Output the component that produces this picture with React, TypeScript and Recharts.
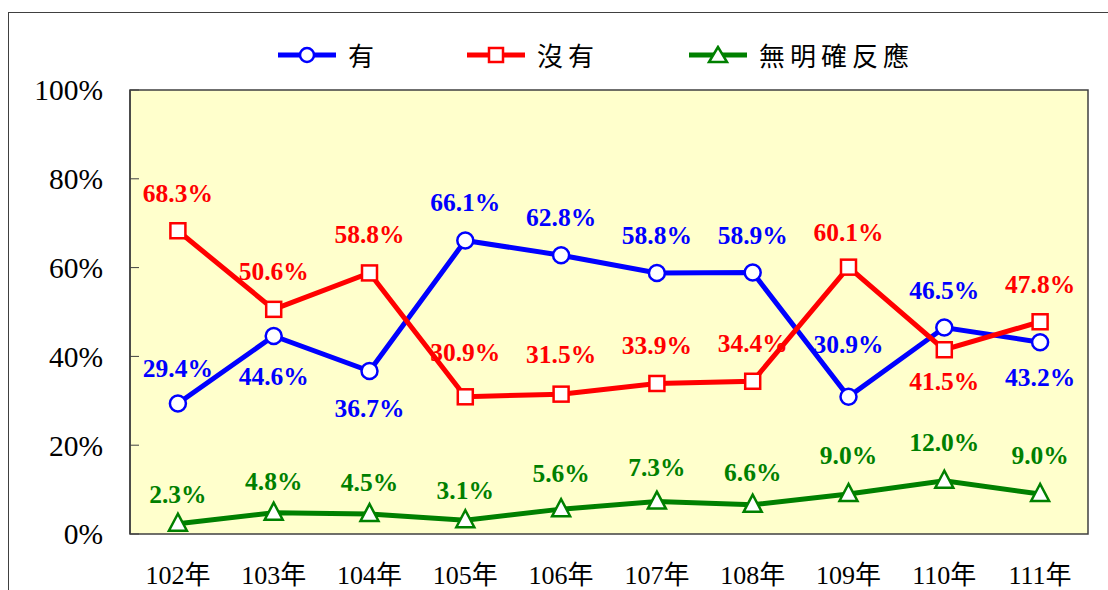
import React from 'react';
import { LineChart, Line, XAxis, YAxis, ReferenceArea } from 'recharts';

const categories = ['102年', '103年', '104年', '105年', '106年', '107年', '108年', '109年', '110年', '111年'];
const haveValues = [29.4, 44.6, 36.7, 66.1, 62.8, 58.8, 58.9, 30.9, 46.5, 43.2];
const noValues = [68.3, 50.6, 58.8, 30.9, 31.5, 33.9, 34.4, 60.1, 41.5, 47.8];
const unclearValues = [2.3, 4.8, 4.5, 3.1, 5.6, 7.3, 6.6, 9.0, 12.0, 9.0];
const yTicks = [0, 20, 40, 60, 80, 100];
const seriesNames = ['有', '沒有', '無明確反應'];

// label placement (vertical offset of label centre from point, px)
const haveLabelDy = [-35, 41, 37, -38, -38, -37, -37, -52, -37, 35];
const noLabelDy = [-37, -38, -38, -44, -40, -38, -38, -35, 32, -37];
const unclearLabelDy = [-29, -31, -32, -30, -36, -34, -32, -39, -38, -39];

const BLUE = '#0000FF';
const RED = '#FF0000';
const GREEN = '#008000';
const SERIF = "'Liberation Serif', 'Times New Roman', 'Noto Sans CJK TC', serif";
const CJK = "'Noto Sans CJK TC', 'Noto Sans CJK SC', sans-serif";

const data = categories.map((c, i) => ({
  x: i + 0.5,
  cat: c,
  have: haveValues[i],
  no: noValues[i],
  unclear: unclearValues[i],
}));

const makeLabel = (color: string, dys: number[]) => (p: any) => {
  const { x, y, value, index } = p;
  if (x == null || y == null) return null;
  return (
    <text
      key={`lb-${color}-${index}`}
      x={x}
      y={y + dys[index]}
      textAnchor="middle"
      dominantBaseline="central"
      fill={color}
      fontFamily={SERIF}
      fontWeight="bold"
      fontSize={25.5}
    >
      {Number(value).toFixed(1)}%
    </text>
  );
};

const circleDot = (p: any) => (
  <circle key={`c-${p.index}`} cx={p.cx} cy={p.cy} r={8} fill="#fff" stroke={BLUE} strokeWidth={2.5} />
);
const squareDot = (p: any) => (
  <rect key={`s-${p.index}`} x={p.cx - 7.5} y={p.cy - 7.5} width={15} height={15} fill="#fff" stroke={RED} strokeWidth={2.5} />
);
const triDot = (p: any) => (
  <polygon
    key={`t-${p.index}`}
    points={`${p.cx},${p.cy - 10} ${p.cx - 9},${p.cy + 7} ${p.cx + 9},${p.cy + 7}`}
    fill="#fff"
    stroke={GREEN}
    strokeWidth={2.5}
    strokeLinejoin="miter"
  />
);

const XLabelTick = (p: any) => {
  const { x, y, payload } = p;
  const idx = Math.round(payload.value - 0.5);
  return (
    <text x={x} y={y + 50} textAnchor="middle" fill="#000" fontFamily={SERIF} fontSize={26}>
      {categories[idx]}
    </text>
  );
};

const YLabelTick = (p: any) => {
  const { x, y, payload } = p;
  return (
    <text x={x} y={y} dy="0.35em" textAnchor="end" fill="#000" fontFamily={SERIF} fontSize={29.5}>
      {payload.value}%
    </text>
  );
};

const LegendIcon = ({ kind, color }: { kind: string; color: string }) => (
  <svg width={60} height={20} style={{ display: 'block' }}>
    <line x1={0} y1={10} x2={58} y2={10} stroke={color} strokeWidth={5} />
    {kind === 'circle' && <circle cx={29} cy={10} r={7} fill="#fff" stroke={color} strokeWidth={2.5} />}
    {kind === 'square' && <rect x={22} y={3} width={14} height={14} fill="#fff" stroke={color} strokeWidth={2.5} />}
    {kind === 'tri' && <polygon points="29,2 20,17 38,17" fill="#fff" stroke={color} strokeWidth={2.5} />}
  </svg>
);

const legendItems = [
  { name: seriesNames[0], color: BLUE, kind: 'circle', left: 278 },
  { name: seriesNames[1], color: RED, kind: 'square', left: 467 },
  { name: seriesNames[2], color: GREEN, kind: 'tri', left: 689 },
];

export default function App() {
  return (
    <div style={{ position: 'fixed', left: 0, top: 0, width: 1108, height: 590, background: '#fff', overflow: 'hidden' }}>
      <div
        style={{
          position: 'absolute',
          left: 8,
          top: 12,
          width: 1140,
          height: 620,
          border: '1.5px solid #404040',
          boxSizing: 'border-box',
        }}
      />
      {legendItems.map((it) => (
        <div
          key={it.name}
          style={{ position: 'absolute', left: it.left, top: 40, height: 30, display: 'flex', alignItems: 'center' }}
        >
          <LegendIcon kind={it.kind} color={it.color} />
          <span style={{ marginLeft: 10, fontFamily: CJK, fontSize: 26, color: '#000', lineHeight: '30px', letterSpacing: 5 }}>
            {it.name}
          </span>
        </div>
      ))}
      <div style={{ position: 'absolute', left: 0, top: 0 }}>
        <LineChart width={1108} height={590} data={data} margin={{ top: 90, right: 20, bottom: 0, left: 0 }}>
          <XAxis
            xAxisId="ticks"
            type="number"
            dataKey="x"
            domain={[0, 10]}
            ticks={[1, 2, 3, 4, 5, 6, 7, 8, 9]}
            tick={false}
            tickSize={-8}
            height={0}
            axisLine={{ stroke: '#404040', strokeWidth: 1.5 }}
            tickLine={{ stroke: '#404040', strokeWidth: 1 }}
            allowDataOverflow
          />
          <XAxis
            xAxisId="lab"
            type="number"
            dataKey="x"
            domain={[0, 10]}
            ticks={data.map((d) => d.x)}
            tick={<XLabelTick />}
            tickSize={0}
            tickMargin={0}
            height={56}
            axisLine={false}
            tickLine={false}
            interval={0}
          />
          <YAxis
            type="number"
            domain={[0, 100]}
            ticks={yTicks}
            width={130}
            tickSize={-9}
            tickMargin={36}
            tick={<YLabelTick />}
            axisLine={{ stroke: '#404040', strokeWidth: 1.5 }}
            tickLine={{ stroke: '#404040', strokeWidth: 1 }}
            interval={0}
          />
          <ReferenceArea
            xAxisId="lab"
            x1={0}
            x2={10}
            y1={0}
            y2={100}
            fill="#FFFFCC"
            fillOpacity={1}
            stroke="#404040"
            strokeWidth={1.5}
          />
          <Line
            xAxisId="lab"
            dataKey="unclear"
            name={seriesNames[2]}
            stroke={GREEN}
            strokeWidth={5}
            dot={triDot}
            activeDot={false}
            label={makeLabel(GREEN, unclearLabelDy)}
            isAnimationActive={false}
          />
          <Line
            xAxisId="lab"
            dataKey="have"
            name={seriesNames[0]}
            stroke={BLUE}
            strokeWidth={5}
            dot={circleDot}
            activeDot={false}
            label={makeLabel(BLUE, haveLabelDy)}
            isAnimationActive={false}
          />
          <Line
            xAxisId="lab"
            dataKey="no"
            name={seriesNames[1]}
            stroke={RED}
            strokeWidth={5}
            dot={squareDot}
            activeDot={false}
            label={makeLabel(RED, noLabelDy)}
            isAnimationActive={false}
          />
        </LineChart>
      </div>
    </div>
  );
}
